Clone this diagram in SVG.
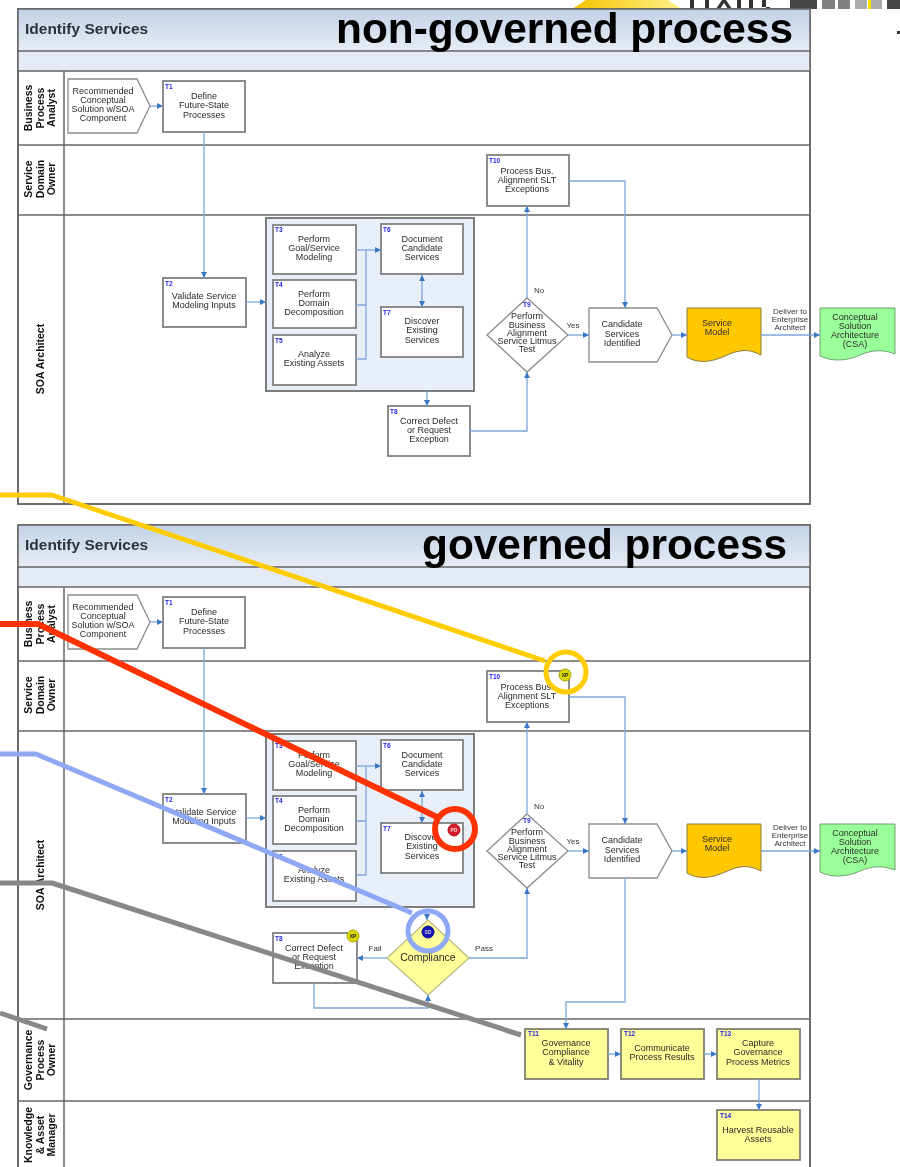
<svg xmlns="http://www.w3.org/2000/svg" width="900" height="1167" viewBox="0 0 900 1167">
<style>
text{font-family:"Liberation Sans",Arial,sans-serif}
.big{font-size:42.4px;font-weight:bold;fill:#000}
.ttl{font-size:15.5px;font-weight:bold;fill:#2e323a}
.lane{font-size:10.5px;font-weight:bold;fill:#111;text-anchor:middle}
.t{font-size:9px;fill:#2a2a2a;text-anchor:middle}
.sm{font-size:8px;fill:#333;text-anchor:middle}
.id{font-size:6.5px;font-weight:bold;fill:#2222ee}
.bd{font-size:5px;font-weight:bold;text-anchor:middle}
.frame{fill:#fff;stroke:#666;stroke-width:1.6}
.sep{stroke:#666;stroke-width:1.5;fill:none}
.sub{fill:#e4ebf6}
.box{fill:#fff;stroke:#808080;stroke-width:1.8}
.ybox{fill:#ffff99;stroke:#808070;stroke-width:1.8}
.thin{fill:#fff;stroke:#8c8c8c;stroke-width:1.3}
.grp{fill:#e9eff8;stroke:#777;stroke-width:1.9}
.c{fill:none;stroke:#7ea6da;stroke-width:1.3}
.a{marker-end:url(#ah)}
.ab{marker-end:url(#ah);marker-start:url(#as)}
.call{fill:none;stroke-width:5;stroke-linejoin:round}
</style>
<defs>
<linearGradient id="hd" x1="0" y1="0" x2="0" y2="1"><stop offset="0" stop-color="#c2d2e6"/><stop offset="1" stop-color="#e6ecf5"/></linearGradient>
<linearGradient id="yl" x1="0" y1="0" x2="1" y2="0"><stop offset="0" stop-color="#f5c400"/><stop offset="1" stop-color="#fff08a"/></linearGradient>
<marker id="ah" markerWidth="7" markerHeight="7" refX="6" refY="3" orient="auto" markerUnits="userSpaceOnUse"><path d="M0 0L6 3L0 6z" fill="#3b78c4"/></marker>
<marker id="as" markerWidth="7" markerHeight="7" refX="0" refY="3" orient="auto" markerUnits="userSpaceOnUse"><path d="M6 0L0 3L6 6z" fill="#3b78c4"/></marker>
<filter id="soft" x="-2%" y="-2%" width="104%" height="104%"><feGaussianBlur stdDeviation="0.7"/></filter>
<filter id="soft2" x="-2%" y="-2%" width="104%" height="104%"><feGaussianBlur stdDeviation="0.35"/></filter>
</defs>
<rect width="900" height="1167" fill="#fff"/>

<g id="backdrop" filter="url(#soft2)">
<path d="M572 9L586 0H668L682 9z" fill="url(#yl)"/>
<path d="M690 0h4v9h-4zM705 0h4v9h-4zM716 9l6-9h4l6 9h-4l-4-6-4 6zM737 0h4v9h-4zM749 0h4v9h-4zM762 0h4v9h4v-2h-8z" fill="#333"/>
<rect x="790" y="0" width="27" height="9" fill="#444"/>
<rect x="822" y="0" width="13" height="9" fill="#808080"/>
<rect x="838" y="0" width="12" height="9" fill="#808080"/>
<rect x="855" y="0" width="12" height="9" fill="#aaa"/>
<rect x="868" y="0" width="3" height="9" fill="#ffe000"/>
<rect x="871" y="0" width="11" height="9" fill="#aaa"/>
<rect x="887" y="0" width="13" height="9" fill="#444"/>
<rect x="897" y="31" width="3" height="3" fill="#333"/>
</g>

<g id="panel-top" filter="url(#soft)">
<rect class="frame" x="18" y="9" width="792" height="495"/>
<rect x="18" y="9" width="792" height="42" fill="url(#hd)"/>
<rect class="sub" x="18" y="51" width="792" height="20"/>
<path class="sep" d="M18 9H810V504H18ZM18 51H810M18 71H810M18 145H810M18 215H810M64 71V504"/>
<text class="ttl" x="25" y="34">Identify Services</text>
<text class="lane" transform="translate(32 108) rotate(-90)">Business</text>
<text class="lane" transform="translate(44 108) rotate(-90)">Process</text>
<text class="lane" transform="translate(55 108) rotate(-90)">Analyst</text>
<text class="lane" transform="translate(32 179) rotate(-90)">Service</text>
<text class="lane" transform="translate(44 179) rotate(-90)">Domain</text>
<text class="lane" transform="translate(55 179) rotate(-90)">Owner</text>
<text class="lane" transform="translate(44 359) rotate(-90)">SOA Architect</text>

<text class="sm" x="539" y="293">No</text>
<text class="sm" x="573" y="328">Yes</text>
<text class="sm" x="790" y="314">Deliver to</text>
<text class="sm" x="790" y="322">Enterprise</text>
<text class="sm" x="790" y="330">Architect</text>

<g id="top-start"><path class="thin" d="M68 79H137L150 106L137 133H68Z"/><text class="t" x="103" y="94">Recommended</text><text class="t" x="103" y="103">Conceptual</text><text class="t" x="103" y="112">Solution w/SOA</text><text class="t" x="103" y="121">Component</text></g>
<g id="top-t1"><rect class="box" x="163" y="81" width="82" height="51"/><text class="id" x="165" y="89">T1</text><text class="t" x="204" y="99">Define</text><text class="t" x="204" y="108">Future-State</text><text class="t" x="204" y="118">Processes</text></g>
<g id="top-t10"><rect class="box" x="487" y="155" width="82" height="51"/><text class="id" x="489" y="163">T10</text><text class="t" x="527" y="174">Process Bus.</text><text class="t" x="527" y="183">Alignment SLT</text><text class="t" x="527" y="192">Exceptions</text></g>
<g id="top-t2"><rect class="box" x="163" y="278" width="83" height="49"/><text class="id" x="165" y="286">T2</text><text class="t" x="204" y="299">Validate Service</text><text class="t" x="204" y="308">Modeling Inputs</text></g>
<g id="top-group"><rect class="grp" x="266" y="218" width="208" height="173"/></g>
<g id="top-t3"><rect class="box" x="273" y="225" width="83" height="49"/><text class="id" x="275" y="232">T3</text><text class="t" x="314" y="242">Perform</text><text class="t" x="314" y="251">Goal/Service</text><text class="t" x="314" y="260">Modeling</text></g>
<g id="top-t4"><rect class="box" x="273" y="280" width="83" height="48"/><text class="id" x="275" y="287">T4</text><text class="t" x="314" y="297">Perform</text><text class="t" x="314" y="306">Domain</text><text class="t" x="314" y="315">Decomposition</text></g>
<g id="top-t5"><rect class="box" x="273" y="335" width="83" height="50"/><text class="id" x="275" y="343">T5</text><text class="t" x="314" y="357">Analyze</text><text class="t" x="314" y="366">Existing Assets</text></g>
<g id="top-t6"><rect class="box" x="381" y="224" width="82" height="50"/><text class="id" x="383" y="232">T6</text><text class="t" x="422" y="242">Document</text><text class="t" x="422" y="251">Candidate</text><text class="t" x="422" y="260">Services</text></g>
<g id="top-t7"><rect class="box" x="381" y="307" width="82" height="50"/><text class="id" x="383" y="315">T7</text><text class="t" x="422" y="324">Discover</text><text class="t" x="422" y="333">Existing</text><text class="t" x="422" y="343">Services</text></g>
<g id="top-t8"><rect class="box" x="388" y="406" width="82" height="50"/><text class="id" x="390" y="414">T8</text><text class="t" x="429" y="424">Correct Defect</text><text class="t" x="429" y="433">or Request</text><text class="t" x="429" y="442">Exception</text></g>
<g id="top-t9"><path class="thin" d="M527 298L568 335L527 372L487 335Z"/><text class="id" x="523" y="307">T9</text><text class="t" x="527" y="319">Perform</text><text class="t" x="527" y="328">Business</text><text class="t" x="527" y="336">Alignment</text><text class="t" x="527" y="344">Service Litmus</text><text class="t" x="527" y="352">Test</text></g>
<g id="top-candidate"><path class="thin" d="M589 308H657L672 335L657 362H589Z"/><text class="t" x="622" y="327">Candidate</text><text class="t" x="622" y="337">Services</text><text class="t" x="622" y="346">Identified</text></g>
<g id="top-model"><path fill="#ffc800" stroke="#8a7a40" d="M687 308H761V355C748 348 738 350 725 356C712 362 698 364 687 357Z"/><text class="t" x="717" y="326">Service</text><text class="t" x="717" y="335">Model</text></g>
<g id="top-csa"><path fill="#99ff99" stroke="#70a070" d="M820 308H895V354C882 349 872 350 860 355C847 361 832 362 820 356Z"/><text class="t" x="855" y="320">Conceptual</text><text class="t" x="855" y="329">Solution</text><text class="t" x="855" y="338">Architecture</text><text class="t" x="855" y="347">(CSA)</text></g>

<g id="top-connectors">
<path class="c a" d="M150 106H163"/>
<path class="c a" d="M204 132V278"/>
<path class="c a" d="M246 302H266"/>
<path class="c a" d="M356 250H381"/>
<path class="c" d="M356 305H366V250M356 359H366V305"/>
<path class="c ab" d="M422 275V307"/>
<path class="c a" d="M427 391V406"/>
<path class="c a" d="M470 431H527V372"/>
<path class="c a" d="M527 298V206"/>
<path class="c a" d="M569 181H625V308"/>
<path class="c a" d="M568 335H589"/>
<path class="c a" d="M672 335H687"/>
<path class="c a" d="M761 335H820"/>
</g>
</g>

<g id="panel-bottom" filter="url(#soft)">
<rect class="frame" x="18" y="525" width="792" height="645"/>
<rect x="18" y="525" width="792" height="42" fill="url(#hd)"/>
<rect class="sub" x="18" y="567" width="792" height="20"/>
<path class="sep" d="M18 525H810V1170M18 525V1170M18 567H810M18 587H810M18 661H810M18 731H810M18 1019H810M18 1101H810M64 587V1170"/>
<text class="ttl" x="25" y="550">Identify Services</text>
<text class="lane" transform="translate(32 624) rotate(-90)">Business</text>
<text class="lane" transform="translate(44 624) rotate(-90)">Process</text>
<text class="lane" transform="translate(55 624) rotate(-90)">Analyst</text>
<text class="lane" transform="translate(32 695) rotate(-90)">Service</text>
<text class="lane" transform="translate(44 695) rotate(-90)">Domain</text>
<text class="lane" transform="translate(55 695) rotate(-90)">Owner</text>
<text class="lane" transform="translate(44 875) rotate(-90)">SOA Architect</text>
<text class="lane" transform="translate(32 1060) rotate(-90)">Governance</text>
<text class="lane" transform="translate(44 1060) rotate(-90)">Process</text>
<text class="lane" transform="translate(55 1060) rotate(-90)">Owner</text>
<text class="lane" transform="translate(32 1135) rotate(-90)">Knowledge</text>
<text class="lane" transform="translate(44 1135) rotate(-90)">&amp; Asset</text>
<text class="lane" transform="translate(55 1135) rotate(-90)">Manager</text>

<text class="sm" x="539" y="809">No</text>
<text class="sm" x="573" y="844">Yes</text>
<text class="sm" x="375" y="951">Fail</text>
<text class="sm" x="484" y="951">Pass</text>
<text class="sm" x="790" y="830">Deliver to</text>
<text class="sm" x="790" y="838">Enterprise</text>
<text class="sm" x="790" y="846">Architect</text>

<g id="bottom-start"><path class="thin" d="M68 595H137L150 622L137 649H68Z"/><text class="t" x="103" y="610">Recommended</text><text class="t" x="103" y="619">Conceptual</text><text class="t" x="103" y="628">Solution w/SOA</text><text class="t" x="103" y="637">Component</text></g>
<g id="bottom-t1"><rect class="box" x="163" y="597" width="82" height="51"/><text class="id" x="165" y="605">T1</text><text class="t" x="204" y="615">Define</text><text class="t" x="204" y="624">Future-State</text><text class="t" x="204" y="634">Processes</text></g>
<g id="bottom-t10"><rect class="box" x="487" y="671" width="82" height="51"/><text class="id" x="489" y="679">T10</text><text class="t" x="527" y="690">Process Bus.</text><text class="t" x="527" y="699">Alignment SLT</text><text class="t" x="527" y="708">Exceptions</text><circle cx="565" cy="675" r="6" fill="#d8d800" stroke="#a8a800"/><text class="bd" x="565" y="677" fill="#222">XP</text></g>
<g id="bottom-t2"><rect class="box" x="163" y="794" width="83" height="49"/><text class="id" x="165" y="802">T2</text><text class="t" x="204" y="815">Validate Service</text><text class="t" x="204" y="824">Modeling Inputs</text></g>
<g id="bottom-group"><rect class="grp" x="266" y="734" width="208" height="173"/></g>
<g id="bottom-t3"><rect class="box" x="273" y="741" width="83" height="49"/><text class="id" x="275" y="748">T3</text><text class="t" x="314" y="758">Perform</text><text class="t" x="314" y="767">Goal/Service</text><text class="t" x="314" y="776">Modeling</text></g>
<g id="bottom-t4"><rect class="box" x="273" y="796" width="83" height="48"/><text class="id" x="275" y="803">T4</text><text class="t" x="314" y="813">Perform</text><text class="t" x="314" y="822">Domain</text><text class="t" x="314" y="831">Decomposition</text></g>
<g id="bottom-t5"><rect class="box" x="273" y="851" width="83" height="50"/><text class="id" x="275" y="859">T5</text><text class="t" x="314" y="873">Analyze</text><text class="t" x="314" y="882">Existing Assets</text></g>
<g id="bottom-t6"><rect class="box" x="381" y="740" width="82" height="50"/><text class="id" x="383" y="748">T6</text><text class="t" x="422" y="758">Document</text><text class="t" x="422" y="767">Candidate</text><text class="t" x="422" y="776">Services</text></g>
<g id="bottom-t7"><rect class="box" x="381" y="823" width="82" height="50"/><text class="id" x="383" y="831">T7</text><text class="t" x="422" y="840">Discover</text><text class="t" x="422" y="849">Existing</text><text class="t" x="422" y="859">Services</text><circle cx="454" cy="830" r="6" fill="#d81e2a" stroke="#b01020"/><text class="bd" x="454" y="832" fill="#fcc">PD</text></g>
<g id="bottom-t8"><rect class="box" x="273" y="933" width="84" height="50"/><text class="id" x="275" y="941">T8</text><text class="t" x="314" y="951">Correct Defect</text><text class="t" x="314" y="960">or Request</text><text class="t" x="314" y="969">Exception</text><circle cx="353" cy="936" r="6" fill="#d8d800" stroke="#a8a800"/><text class="bd" x="353" y="938" fill="#222">XP</text></g>
<g id="bottom-compliance"><path fill="#ffff99" stroke="#b8b880" stroke-width="1.2" d="M428 920L469 958L428 995L387 958Z"/><text class="t" x="428" y="961" style="font-size:10.5px">Compliance</text><circle cx="428" cy="932" r="6" fill="#1414b4" stroke="#0c0c90"/><text class="bd" x="428" y="934" fill="#ccd">SD</text></g>
<g id="bottom-t9"><path class="thin" d="M527 814L568 851L527 888L487 851Z"/><text class="id" x="523" y="823">T9</text><text class="t" x="527" y="835">Perform</text><text class="t" x="527" y="844">Business</text><text class="t" x="527" y="852">Alignment</text><text class="t" x="527" y="860">Service Litmus</text><text class="t" x="527" y="868">Test</text></g>
<g id="bottom-candidate"><path class="thin" d="M589 824H657L672 851L657 878H589Z"/><text class="t" x="622" y="843">Candidate</text><text class="t" x="622" y="853">Services</text><text class="t" x="622" y="862">Identified</text></g>
<g id="bottom-model"><path fill="#ffc800" stroke="#8a7a40" d="M687 824H761V871C748 864 738 866 725 872C712 878 698 880 687 873Z"/><text class="t" x="717" y="842">Service</text><text class="t" x="717" y="851">Model</text></g>
<g id="bottom-csa"><path fill="#99ff99" stroke="#70a070" d="M820 824H895V870C882 865 872 866 860 871C847 877 832 878 820 872Z"/><text class="t" x="855" y="836">Conceptual</text><text class="t" x="855" y="845">Solution</text><text class="t" x="855" y="854">Architecture</text><text class="t" x="855" y="863">(CSA)</text></g>
<g id="bottom-t11"><rect class="ybox" x="525" y="1029" width="83" height="50"/><text class="id" x="528" y="1036">T11</text><text class="t" x="566" y="1046">Governance</text><text class="t" x="566" y="1055">Compliance</text><text class="t" x="566" y="1065">&amp; Vitality</text></g>
<g id="bottom-t12"><rect class="ybox" x="621" y="1029" width="83" height="50"/><text class="id" x="624" y="1036">T12</text><text class="t" x="662" y="1051">Communicate</text><text class="t" x="662" y="1060">Process Results</text></g>
<g id="bottom-t13"><rect class="ybox" x="717" y="1029" width="83" height="50"/><text class="id" x="720" y="1036">T13</text><text class="t" x="758" y="1046">Capture</text><text class="t" x="758" y="1055">Governance</text><text class="t" x="758" y="1065">Process Metrics</text></g>
<g id="bottom-t14"><rect class="ybox" x="717" y="1110" width="83" height="50"/><text class="id" x="720" y="1118">T14</text><text class="t" x="758" y="1133">Harvest Reusable</text><text class="t" x="758" y="1142">Assets</text></g>

<g id="bottom-connectors">
<path class="c a" d="M150 622H163"/>
<path class="c a" d="M204 648V794"/>
<path class="c a" d="M246 818H266"/>
<path class="c a" d="M356 766H381"/>
<path class="c" d="M356 821H366V766M356 875H366V821"/>
<path class="c ab" d="M422 791V823"/>
<path class="c a" d="M427 907V920"/>
<path class="c a" d="M387 958H357"/>
<path class="c a" d="M469 958H527V888"/>
<path class="c a" d="M314 983V1008H428V995"/>
<path class="c a" d="M527 814V722"/>
<path class="c a" d="M569 697H625V824"/>
<path class="c a" d="M625 878V1002H566V1029"/>
<path class="c a" d="M568 851H589"/>
<path class="c a" d="M672 851H687"/>
<path class="c a" d="M761 851H820"/>
<path class="c a" d="M608 1054H621"/>
<path class="c a" d="M704 1054H717"/>
<path class="c a" d="M759 1079V1110"/>
</g>
</g>

<g id="captions" filter="url(#soft2)">
<text class="big" x="336" y="43">non-governed process</text>
<text class="big" x="422" y="559">governed process</text>
</g>

<g id="callouts" filter="url(#soft2)">
<path class="call" stroke="#ffcc00" d="M0 495H52L545 661"/>
<circle class="call" stroke="#ffcc00" cx="566" cy="672" r="20"/>
<path class="call" stroke="#ff3300" d="M0 624H38L437 817" style="stroke-width:6"/>
<circle class="call" stroke="#ff3300" cx="455" cy="829" r="20" style="stroke-width:6"/>
<path class="call" stroke="#8fa8f5" d="M0 754H36L412 913"/>
<circle class="call" stroke="#8fa8f5" cx="428" cy="931" r="20"/>
<path class="call" stroke="#888" d="M0 883H52L521 1035"/>
<path class="call" stroke="#888" d="M0 1013L47 1029"/>
</g>
</svg>
